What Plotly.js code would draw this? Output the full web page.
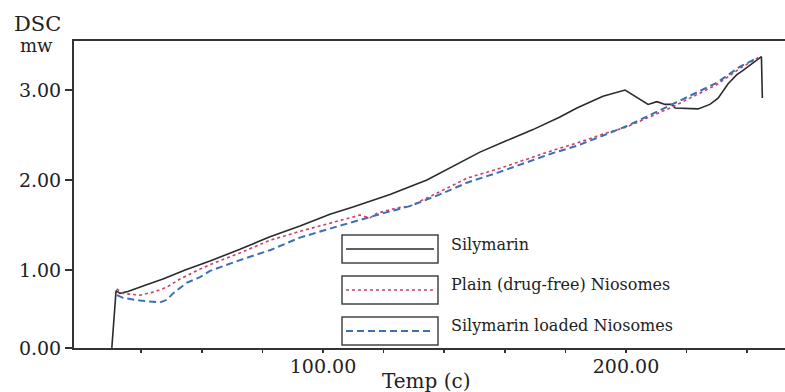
<!DOCTYPE html>
<html>
<head>
<meta charset="utf-8">
<script src="https://cdn.plot.ly/plotly-3.0.1.min.js"></script>
<style>html,body{margin:0;padding:0;background:#fff;}#chart{width:785px;height:392px;}</style>
</head>
<body>
<div id="chart"></div>
<script>
// ---- Data (Temp in °C, DSC heat flow in mW) ----
const seriesNames = ["Silymarin", "Plain (drug-free) Niosomes", "Silymarin loaded Niosomes"];

const tempSilymarin = [30.3, 31.7, 33.0, 35.6, 41.3, 47.2, 54.5, 62.7, 72.6, 82.5, 92.4, 102.3, 109.9, 122.1, 134.3, 143.6, 151.8, 160.1, 169.3, 178.2, 183.8, 192.4, 199.7, 207.3, 210.2, 212.9, 215.2, 216.2, 223.8, 227.7, 230.4, 233.7, 236.6, 238.3, 244.7, 245.0];
const dscSilymarin  = [0.135, 0.77, 0.74, 0.76, 0.83, 0.90, 1.00, 1.10, 1.23, 1.37, 1.49, 1.62, 1.70, 1.84, 2.00, 2.16, 2.31, 2.43, 2.56, 2.70, 2.80, 2.93, 3.00, 2.84, 2.87, 2.84, 2.84, 2.80, 2.79, 2.84, 2.91, 3.07, 3.17, 3.21, 3.37, 2.91];

const tempPlain = [31.9, 34.0, 39.6, 44.6, 48.5, 52.8, 59.4, 62.7, 72.6, 82.5, 92.4, 102.3, 112.2, 115.5, 117.8, 124.4, 128.7, 138.6, 147.5, 158.4, 175.9, 183.8, 191.4, 200.3, 215.2, 230.0, 237.6, 243.6];
const dscPlain  = [0.79, 0.74, 0.72, 0.76, 0.81, 0.90, 1.01, 1.06, 1.19, 1.33, 1.43, 1.52, 1.61, 1.58, 1.63, 1.69, 1.71, 1.87, 2.02, 2.13, 2.33, 2.41, 2.50, 2.59, 2.81, 3.06, 3.24, 3.36];

const tempLoaded = [32.0, 34.0, 39.6, 46.2, 48.5, 50.5, 55.1, 59.4, 62.7, 72.6, 82.5, 92.4, 102.3, 112.2, 120.8, 128.7, 138.6, 147.5, 158.4, 175.9, 183.8, 191.4, 200.3, 215.2, 230.0, 237.6, 243.6];
const dscLoaded  = [0.72, 0.69, 0.66, 0.64, 0.67, 0.74, 0.86, 0.92, 0.99, 1.11, 1.22, 1.36, 1.46, 1.56, 1.64, 1.71, 1.84, 1.97, 2.09, 2.30, 2.38, 2.48, 2.60, 2.84, 3.08, 3.26, 3.36];

const xTickVals = [40, 60, 80, 100, 120, 140, 160, 180, 200, 220, 240];
const xTickText = ["", "", "", "100.00", "", "", "", "", "200.00", "", ""];
const yTickVals = [0.1333, 1, 2, 3];
const yTickText = ["0.00", "1.00", "2.00", "3.00"];

// ---- Styling / layout ----
const FONT = "DejaVu Serif, Liberation Serif, serif";
const colors = ["#2b2b2b", "#cc3f6b", "#3d6fb3"];
const dashes = ["solid", "dot", "7px,4px"];
const widths = [1.6, 1.6, 2];

const W = 785, H = 392, ML = 74, MR = 0, MT = 41, MB = 44;
const PW = W - ML - MR, PH = H - MT - MB;
const px = v => (v - ML) / PW;          // pixel x -> paper x
const py = v => (H - MB - v) / PH;      // pixel y -> paper y

const traces = [
  {x: tempSilymarin, y: dscSilymarin},
  {x: tempPlain, y: dscPlain},
  {x: tempLoaded, y: dscLoaded}
].map((d, i) => ({
  x: d.x, y: d.y, type: "scatter", mode: "lines", name: seriesNames[i],
  line: {color: colors[i], width: widths[i], dash: dashes[i]},
  showlegend: false, hoverinfo: "skip"
}));

// Legend drawn as framed samples with labels beside them
const legendRows = [249, 290, 331];
const legendTextY = [244, 284, 325];
const shapes = [];
const annotations = [];
legendRows.forEach((cy, i) => {
  shapes.push({type: "rect", xref: "paper", yref: "paper",
    x0: px(342), x1: px(438), y0: py(cy - 14), y1: py(cy + 14),
    line: {color: "#444", width: 1.5}, fillcolor: "#fff"});
  shapes.push({type: "line", xref: "paper", yref: "paper",
    x0: px(346), x1: px(434), y0: py(cy), y1: py(cy),
    line: {color: colors[i], width: widths[i], dash: dashes[i]}});
  annotations.push({xref: "paper", yref: "paper", x: px(449), y: py(legendTextY[i]),
    xanchor: "left", yanchor: "middle", showarrow: false, text: seriesNames[i],
    font: {family: FONT, size: 16, color: "#222"}});
});

annotations.push({xref: "paper", yref: "paper", x: px(37), y: py(24), xanchor: "center", yanchor: "middle",
  showarrow: false, text: "DSC", font: {family: FONT, size: 21, color: "#222"}});
annotations.push({xref: "paper", yref: "paper", x: px(36), y: py(45), xanchor: "center", yanchor: "middle",
  showarrow: false, text: "mw", font: {family: FONT, size: 18, color: "#222"}});
annotations.push({xref: "paper", yref: "paper", x: px(426), y: py(381), xanchor: "center", yanchor: "middle",
  showarrow: false, text: "Temp (c)", font: {family: FONT, size: 20, color: "#222"}});

const layout = {
  width: W, height: H,
  margin: {l: ML, r: MR, t: MT, b: MB, pad: 0},
  paper_bgcolor: "#fff", plot_bgcolor: "#fff",
  showlegend: false,
  xaxis: {
    range: [17.82, 252.48], showgrid: false, zeroline: false,
    showline: true, linewidth: 2, linecolor: "#333", mirror: true,
    ticks: "outside", ticklen: 3, tickwidth: 1.5, tickcolor: "#333",
    tickmode: "array", tickvals: xTickVals, ticktext: xTickText,
    ticklabelstandoff: -3,
    tickfont: {family: FONT, size: 19, color: "#222"}
  },
  yaxis: {
    range: [0.1333, 3.5444], showgrid: false, zeroline: false,
    showline: true, linewidth: 2, linecolor: "#333",
    ticks: "outside", ticklen: 7, tickwidth: 1.5, tickcolor: "#333",
    tickmode: "array", tickvals: yTickVals, ticktext: yTickText,
    tickfont: {family: FONT, size: 19, color: "#222"}
  },
  shapes: shapes,
  annotations: annotations
};

Plotly.newPlot("chart", traces, layout, {staticPlot: true, displayModeBar: false});
</script>
</body>
</html>
